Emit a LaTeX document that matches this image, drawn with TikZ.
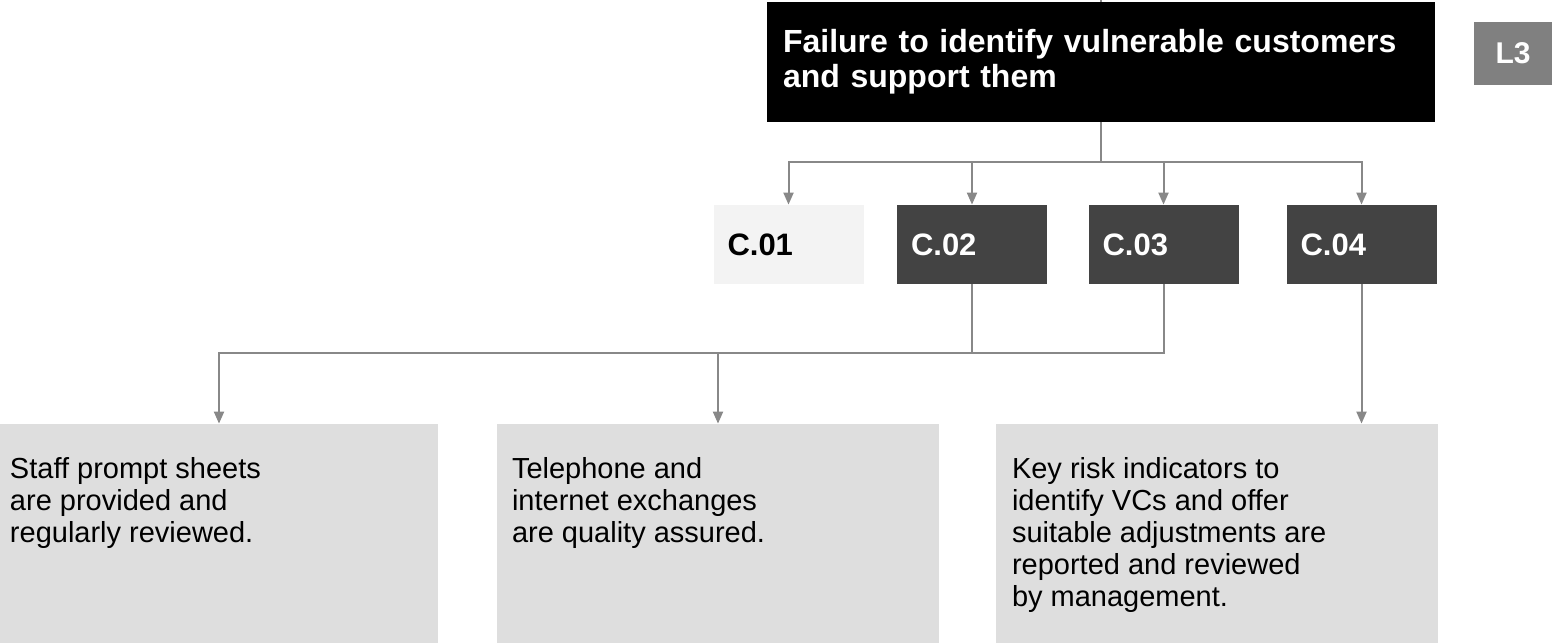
\documentclass[tikz,border=0pt]{standalone}
\usepackage{fontspec}
\setmainfont{Liberation Sans}
\usetikzlibrary{arrows.meta}

\definecolor{ctrlgrey}{HTML}{434343}
\definecolor{ctrllight}{HTML}{F3F3F3}
\definecolor{levelgrey}{HTML}{808080}
\definecolor{notegrey}{HTML}{DEDEDE}
\definecolor{wiregrey}{HTML}{888888}

% text of a note, hung from the top of its box
\newcommand\notetext[2]{\parbox[c][76pt][t]{#1}{#2}}

\begin{document}
\begin{tikzpicture}[x=0.5pt,y=-0.5pt,
  link/.style={draw=wiregrey, line width=1pt},
  arr/.style={link, -{Triangle[width=5pt,length=6pt]}},
  headbox/.style={fill=black, text=white, minimum width=334pt, minimum height=60pt,
    inner xsep=8pt, text width=318pt, align=left,
    font=\fontsize{16}{17.5}\selectfont\bfseries},
  levelbox/.style={fill=levelgrey, text=white, minimum width=39pt, minimum height=31.5pt,
    inner sep=0pt, font=\fontsize{15}{17}\selectfont\bfseries},
  ctrl/.style={fill=ctrlgrey, text=white, minimum width=75pt, minimum height=39.5pt,
    inner xsep=7pt, text width=61pt, align=left,
    font=\fontsize{15.5}{17}\selectfont\bfseries},
  note/.style={fill=notegrey, minimum height=109.5pt, inner ysep=0pt,
    font=\fontsize{14.5}{16}\selectfont}
]
\useasboundingbox (0,0) rectangle (1552,643);

% ===== risk and level =====
\node[headbox] (risk) at (1101,62) {Failure to identify vulnerable customers\\and support them};
\node[levelbox] (level) at (1513,53.5) {L3};

% ===== controls =====
\node[ctrl, fill=ctrllight, text=black] (c1) at (788.5,244.5) {C.01};
\node[ctrl] (c2) at (972,244.5) {C.02};
\node[ctrl] (c3) at (1163.5,244.5) {C.03};
\node[ctrl] (c4) at (1361.5,244.5) {C.04};

% ===== notes =====
\node[note, inner xsep=5pt] (note1) at (219,533.5)
  {\notetext{209pt}{Staff prompt sheets\\are provided and\\regularly reviewed.}};
\node[note, inner xsep=7.5pt] (note2) at (718,533.5)
  {\notetext{206pt}{Telephone and\\internet exchanges\\are quality assured.}};
\node[note, inner xsep=8pt] (note3) at (1217,533.5)
  {\notetext{205pt}{Key risk indicators to\\identify VCs and offer\\suitable adjustments are\\reported and reviewed\\by management.}};

% ===== connectors =====
\coordinate (riskfeed) at (1101,-10);
\coordinate (riskfork) at (1101,162);
\coordinate (ctrlfork) at (972,353);

\draw[link] (riskfeed) -- (risk.north);
\draw[link] (risk.south) -- (riskfork);
\foreach \c in {c1,c2,c3,c4}
  \draw[arr] (riskfork) -| (\c.north);

\draw[link] (c2.south) -- (ctrlfork);
\draw[link] (c3.south) |- (ctrlfork);
\draw[arr] (ctrlfork) -| (note1.north);
\draw[arr] (ctrlfork) -| (note2.north);
\draw[arr] (c4.south) -- (c4.south |- note3.north);

\end{tikzpicture}
\end{document}
